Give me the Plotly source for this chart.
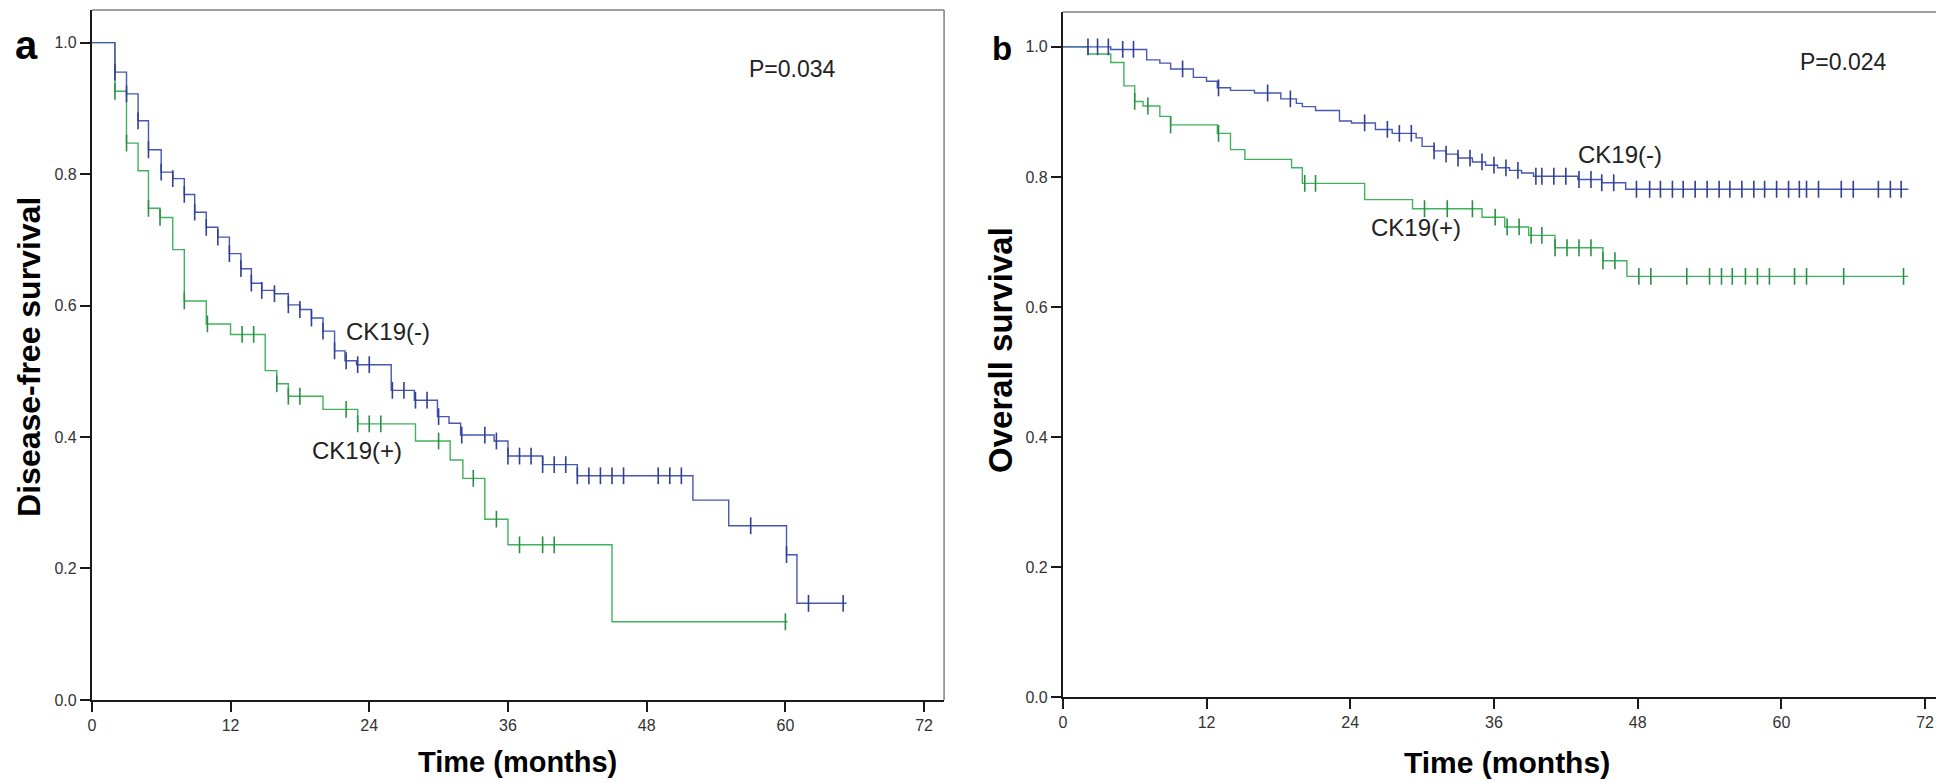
import plotly.graph_objects as go

W, H = 1944, 783

# ---------------- Panel a: Disease-free survival ----------------
dfs_neg_times = [2.0, 3.0, 4.0, 4.9, 6.0, 7.0, 8.0, 8.9, 9.9, 10.9, 11.9, 12.9, 13.8, 14.7,
                 15.8, 17.0, 18.0, 19.0, 20.0, 21.0, 21.9, 22.9, 25.9, 27.9, 29.9, 30.9, 31.9,
                 34.8, 36.0, 39.0, 42.0, 52.0, 55.1, 60.1, 61.0]
dfs_neg_surv = [0.955, 0.922, 0.881, 0.837, 0.803, 0.793, 0.769, 0.742, 0.719, 0.704, 0.679,
                0.656, 0.634, 0.623, 0.618, 0.601, 0.594, 0.581, 0.561, 0.531, 0.516, 0.510,
                0.471, 0.456, 0.431, 0.421, 0.403, 0.394, 0.371, 0.358, 0.341, 0.304, 0.265,
                0.221, 0.147]
dfs_neg_end = 65.3
dfs_neg_censor = [2.0, 3.0, 4.0, 4.9, 6.0, 7.0, 8.0, 8.9, 9.9, 10.9, 11.9, 12.9, 13.8, 14.7,
                  15.8, 17.0, 18.0, 19.0, 20.0, 21.0, 22.0, 23.0, 24.0, 26.0, 27.0, 28.0, 29.0,
                  30.0, 32.0, 34.0, 35.0, 36.0, 37.0, 38.0, 39.0, 40.0, 41.0, 42.0, 43.0, 44.0,
                  45.0, 46.0, 49.0, 50.0, 51.0, 57.0, 60.1, 62.0, 65.0]

dfs_pos_times = [2.0, 3.0, 4.0, 4.9, 5.9, 7.0, 8.0, 9.9, 12.0, 15.0, 16.0, 17.0, 20.0, 23.0,
                 28.0, 31.0, 32.1, 34.0, 36.0, 45.0]
dfs_pos_surv = [0.926, 0.847, 0.805, 0.748, 0.734, 0.685, 0.607, 0.572, 0.556, 0.501, 0.481,
                0.462, 0.442, 0.420, 0.394, 0.365, 0.337, 0.275, 0.236, 0.119]
dfs_pos_end = 60.2
dfs_pos_censor = [2.0, 3.0, 4.9, 5.9, 8.0, 10.0, 13.0, 14.0, 16.0, 17.0, 18.0, 22.0, 23.0,
                  24.0, 25.0, 30.0, 33.0, 35.0, 37.0, 39.0, 40.0, 60.0]

# ---------------- Panel b: Overall survival ----------------
os_neg_times = [4.0, 7.0, 8.1, 9.0, 10.9, 12.0, 12.9, 14.0, 16.0, 18.2, 19.5, 20.0, 21.1, 23.1,
                24.1, 26.1, 27.5, 29.5, 30.0, 31.0, 32.0, 33.0, 34.2, 35.3, 36.3, 37.3, 38.3,
                39.3, 43.0, 45.0, 47.0]
os_neg_surv = [0.996, 0.980, 0.975, 0.966, 0.953, 0.947, 0.937, 0.933, 0.929, 0.920, 0.913,
               0.908, 0.902, 0.886, 0.883, 0.873, 0.867, 0.860, 0.847, 0.840, 0.835, 0.829,
               0.823, 0.818, 0.814, 0.810, 0.806, 0.801, 0.796, 0.791, 0.781]
os_neg_end = 70.6
os_neg_censor = [2.1, 2.9, 3.8, 5.0, 5.9, 10.0, 13.0, 17.1, 19.0, 25.2, 27.1, 28.1, 29.1, 31.0,
                 32.0, 33.0, 34.0, 35.0, 36.0, 37.0, 38.0, 39.5, 40.0, 41.0, 42.0, 43.1, 44.1,
                 45.0, 46.0, 47.9, 49.0, 49.9, 50.9, 51.8, 52.8, 53.8, 54.8, 55.7, 56.7, 57.7,
                 58.6, 59.6, 60.6, 61.5, 62.1, 63.1, 65.0, 66.0, 68.1, 69.1, 70.0]

os_pos_times = [2.1, 4.0, 5.1, 6.0, 6.7, 8.1, 9.0, 12.9, 14.0, 15.2, 19.1, 20.0, 25.2, 29.2,
                35.0, 36.9, 38.9, 41.1, 45.1, 47.1]
os_pos_surv = [0.989, 0.976, 0.940, 0.916, 0.909, 0.893, 0.880, 0.867, 0.842, 0.827, 0.814,
               0.790, 0.765, 0.751, 0.738, 0.723, 0.710, 0.691, 0.671, 0.647]
os_pos_end = 70.6
os_pos_censor = [6.0, 7.1, 9.0, 13.0, 20.2, 21.1, 30.2, 32.1, 34.2, 36.1, 37.1, 38.1, 39.1,
                 40.0, 41.1, 42.1, 43.1, 44.1, 45.1, 46.1, 48.1, 49.1, 52.1, 54.0, 55.0, 55.9,
                 57.0, 58.0, 59.0, 61.1, 62.1, 65.2, 70.2]

x_ticks = [0, 12, 24, 36, 48, 60, 72]
y_ticks = [0.0, 0.2, 0.4, 0.6, 0.8, 1.0]

BLUE = "#4657b4"
BLUE_MK = "#2f3f94"
GREEN = "#3fb35c"
GREEN_MK = "#2a8f45"
FONT = "Liberation Sans, Arial, sans-serif"


def step_at(times, vals, t):
    v = 1.0
    for ti, vi in zip(times, vals):
        if ti <= t + 1e-9:
            v = vi
    return v


def add_curve(fig, times, vals, end, censor, color, mcolor, xa, ya):
    xs = [0.0] + list(times) + [end]
    ys = [1.0] + list(vals) + [vals[-1]]
    fig.add_trace(go.Scatter(x=xs, y=ys, mode="lines", line=dict(color=color, width=1.4, shape="hv"),
                             xaxis=xa, yaxis=ya, showlegend=False, hoverinfo="skip"))
    cy = [step_at(times, vals, t) for t in censor]
    fig.add_trace(go.Scatter(x=censor, y=cy, mode="markers",
                             marker=dict(symbol="line-ns", size=12, line=dict(color=mcolor, width=1.6)),
                             xaxis=xa, yaxis=ya, showlegend=False, hoverinfo="skip"))


fig = go.Figure()
add_curve(fig, dfs_pos_times, dfs_pos_surv, dfs_pos_end, dfs_pos_censor, GREEN, GREEN_MK, "x", "y")
add_curve(fig, dfs_neg_times, dfs_neg_surv, dfs_neg_end, dfs_neg_censor, BLUE, BLUE_MK, "x", "y")
add_curve(fig, os_pos_times, os_pos_surv, os_pos_end, os_pos_censor, GREEN, GREEN_MK, "x2", "y2")
add_curve(fig, os_neg_times, os_neg_surv, os_neg_end, os_neg_censor, BLUE, BLUE_MK, "x2", "y2")


def px_x(p):
    return p / W


def px_y(p):
    return (H - p) / H


axis_common = dict(showgrid=False, zeroline=False, showline=True, linecolor="#1a1a1a", linewidth=2,
                   ticks="outside", ticklen=10, tickwidth=1.5, tickcolor="#1a1a1a",
                   tickfont=dict(family=FONT, size=16, color="#333333"))

fig.update_layout(
    width=W, height=H, margin=dict(l=0, r=0, t=0, b=0),
    paper_bgcolor="white", plot_bgcolor="white",
    xaxis=dict(domain=[px_x(80), px_x(934)], range=[0, 73.73], tickvals=x_ticks,
               anchor="y", **axis_common),
    yaxis=dict(domain=[px_y(700), px_y(2)], range=[0, 1.0496], tickvals=y_ticks, tickformat=".1f",
               anchor="x", **axis_common),
    xaxis2=dict(domain=[px_x(1053), px_x(1939)], range=[0, 73.83], tickvals=x_ticks,
                anchor="y2", **axis_common),
    yaxis2=dict(domain=[px_y(697), px_y(4)], range=[0, 1.0537], tickvals=y_ticks, tickformat=".1f",
                anchor="x2", **axis_common),
)

# gray top/right frame lines
for xr, yr in (("x domain", "y domain"), ("x2 domain", "y2 domain")):
    fig.add_shape(type="line", xref=xr, yref=yr, x0=0, x1=1, y0=1, y1=1,
                  line=dict(color="#7f7f7f", width=1.5))
    fig.add_shape(type="line", xref=xr, yref=yr, x0=1, x1=1, y0=0, y1=1,
                  line=dict(color="#7f7f7f", width=1.5))


def ann(text, x, y, size, bold=False, color="#222222", angle=0):
    fig.add_annotation(text=("<b>%s</b>" % text) if bold else text, xref="paper", yref="paper",
                       x=px_x(x), y=px_y(y), xanchor="center", yanchor="middle", showarrow=False,
                       textangle=angle, font=dict(family=FONT, size=size, color=color))


ann("a", 15, 37, 40, bold=True, color="black")
ann("b", 992, 41, 33, bold=True, color="black")
ann("P=0.034", 782, 62, 23)
ann("P=0.024", 1835, 55, 23)
ann("CK19(-)", 377, 327, 24)
ann("CK19(+)", 346, 448, 24)
ann("CK19(-)", 1611, 148, 24)
ann("CK19(+)", 1407, 222, 24)
ann("Time (months)", 507, 763, 29, bold=True, color="black")
ann("Time (months)", 1498, 763, 30, bold=True, color="black")
ann("Disease-free survival", 17, 353, 32, bold=True, color="black", angle=-90)
ann("Overall survival", 990, 346, 33, bold=True, color="black", angle=-90)

fig.write_html("out.html")
